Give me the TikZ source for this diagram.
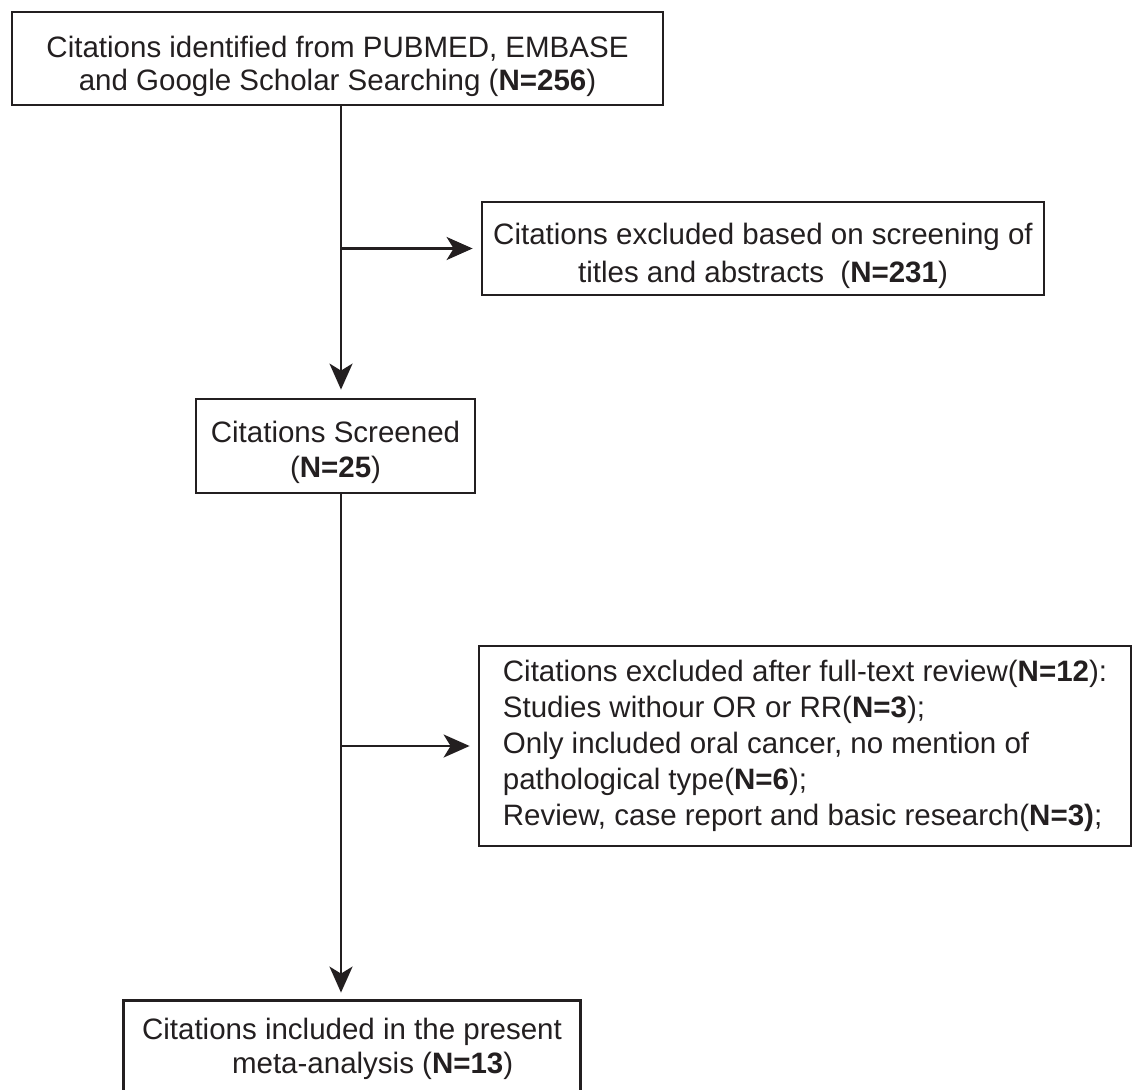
\documentclass[tikz,border=0pt]{standalone}
\usepackage{fontspec}
\setmainfont{Liberation Sans}
\usetikzlibrary{arrows.meta}
\definecolor{ink}{RGB}{35,31,32}
\newcommand\lift[1]{\rule{0pt}{#1}}
\begin{document}
\begin{tikzpicture}[x=1pt,y=-1pt,
  boxline/.style={draw=ink, line width=2.8pt},
  box/.style={boxline, text=ink, align=center, inner sep=0pt, font=\fontsize{29.5}{35}\selectfont},
  arr/.style={draw=ink, line width=2.4pt, -{Stealth[length=26pt,width=23pt,inset=7pt]}, shorten >=8pt}]
\useasboundingbox (0,0) rectangle (1134,1089);
\node[box, minimum width=651, minimum height=93, font=\fontsize{29.5}{33}\selectfont] (b1) at (337.5,58.5)
  {\lift{38pt}Citations identified from PUBMED, EMBASE\\ and Google Scholar Searching (\textbf{N=256})};
\node[box, minimum width=562, minimum height=93, font=\fontsize{29.5}{38}\selectfont] (b2) at (763,248.5)
  {\lift{36pt}Citations excluded based on screening of\\ titles and abstracts\ \ (\textbf{N=231})};
\node[box, minimum width=279, minimum height=94] (b3) at (335.5,446)
  {\lift{34.5pt}Citations Screened\\ (\textbf{N=25})};
\node[box, align=left, minimum width=652, minimum height=200, font=\fontsize{29.5}{36}\selectfont] (b4) at (805,746)
  {Citations excluded after full-text review(\textbf{N=12}):\\
   Studies withour OR or RR(\textbf{N=3});\\
   Only included oral cancer, no mention of\\
   pathological type(\textbf{N=6});\\
   Review, case report and basic research(\textbf{N=3)};};
\node[box, draw=none, minimum width=454, minimum height=86, font=\fontsize{29.5}{34}\selectfont] (b5) at (352,1045)
  {\lift{30pt}Citations included in the present\\ \hspace*{1.4em}meta-analysis (\textbf{N=13})};
\draw[boxline] ([yshift=-30pt]b5.south west) -- (b5.north west) -- (b5.north east) -- ([yshift=-30pt]b5.south east);
\coordinate (j1) at (341,248.5);
\coordinate (j2) at (341,746);
\draw[arr] (b1.south -| j1) -- (b3.north -| j1);
\draw[arr] (j1) -- (b2.west);
\draw[arr] (b3.south -| j2) -- (b5.north -| j2);
\draw[arr] (j2) -- (b4.west);
\end{tikzpicture}
\end{document}
